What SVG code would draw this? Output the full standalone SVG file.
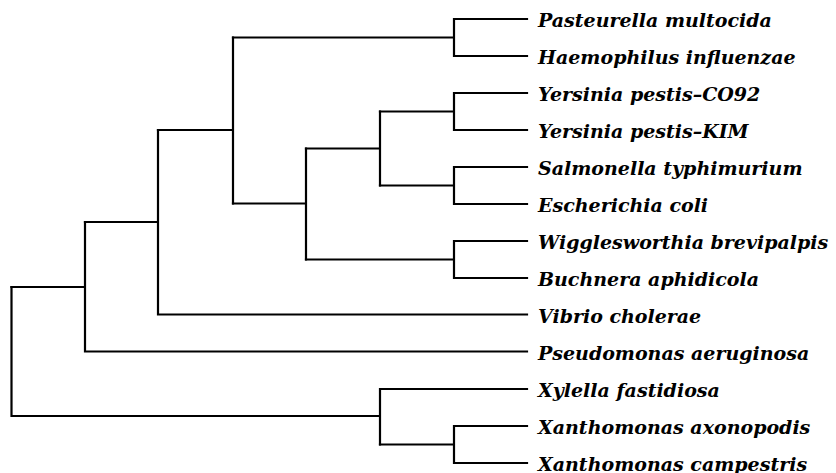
<svg xmlns="http://www.w3.org/2000/svg" width="836" height="473" viewBox="0 0 836 473">
<style>
.e{fill:none;stroke:#000;stroke-width:2.2;stroke-linecap:square;stroke-linejoin:miter}
.t{font-family:"DejaVu Serif","Liberation Serif",serif;font-weight:bold;font-style:italic;font-size:19px;fill:#000}
</style>
<rect width="836" height="473" fill="#fff"/>
<g id="connectors">
<path class="e" d="M527,19H454V56H527M454,37.5H233"/>
<path class="e" d="M527,93H454V130H527M454,111.5H380"/>
<path class="e" d="M527,167H454V204H527M454,185.5H380"/>
<path class="e" d="M380,111.5V185.5M380,148.5H306"/>
<path class="e" d="M527,241H454V278H527M454,259.5H306"/>
<path class="e" d="M306,148.5V259.5M306,203.5H233"/>
<path class="e" d="M233,37.5V203.5M233,130H158"/>
<path class="e" d="M158,130V314.5H527M158,222H85"/>
<path class="e" d="M85,222V351.5H527M85,287H11.5"/>
<path class="e" d="M527,426H454V463H527M454,444.5H380"/>
<path class="e" d="M527,389H380V444.5M380,416H11.5V287"/>
</g>
<g id="leaf-pasteurella"><text class="t" x="538" y="26.5">Pasteurella multocida</text></g>
<g id="leaf-haemophilus"><text class="t" x="538" y="63.5">Haemophilus influenzae</text></g>
<g id="leaf-yersinia-co92"><text class="t" x="538" y="100.5">Yersinia pestis–CO92</text></g>
<g id="leaf-yersinia-kim"><text class="t" x="538" y="137.5">Yersinia pestis–KIM</text></g>
<g id="leaf-salmonella"><text class="t" x="538" y="174.5">Salmonella typhimurium</text></g>
<g id="leaf-escherichia"><text class="t" x="538" y="211.5">Escherichia coli</text></g>
<g id="leaf-wigglesworthia"><text class="t" x="538" y="248.5">Wigglesworthia brevipalpis</text></g>
<g id="leaf-buchnera"><text class="t" x="538" y="285.5">Buchnera aphidicola</text></g>
<g id="leaf-vibrio"><text class="t" x="538" y="322.5">Vibrio cholerae</text></g>
<g id="leaf-pseudomonas"><text class="t" x="538" y="359.5">Pseudomonas aeruginosa</text></g>
<g id="leaf-xylella"><text class="t" x="538" y="396.5">Xylella fastidiosa</text></g>
<g id="leaf-xanthomonas-axonopodis"><text class="t" x="538" y="433.5">Xanthomonas axonopodis</text></g>
<g id="leaf-xanthomonas-campestris"><text class="t" x="538" y="470.5">Xanthomonas campestris</text></g>
</svg>
